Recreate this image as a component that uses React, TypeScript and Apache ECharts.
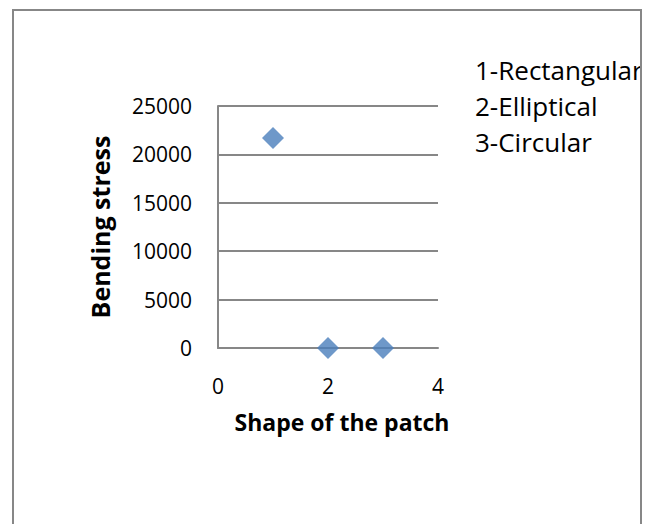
import React, { useEffect, useRef } from "react";
import * as echarts from "echarts";

const shapeIndex = [1, 2, 3];
const bendingStress = [21700, 0, 0];
const legendLines = ["1-Rectangular", "2-Elliptical", "3-Circular"];
const xTitle = "Shape of the patch";
const yTitle = "Bending stress";

const FONT = "'Open Sans', 'Noto Sans', sans-serif";
const GRAY = "#878787";

export default function App() {
  const ref = useRef<HTMLDivElement>(null);
  useEffect(() => {
    if (!ref.current) return;
    const chart = echarts.init(ref.current, undefined, { renderer: "svg" });
    chart.setOption({
      animation: false,
      backgroundColor: "#ffffff",
      grid: { left: 218, top: 106, right: 212, bottom: 176 },
      xAxis: {
        type: "value",
        min: 0,
        max: 4,
        interval: 2,
        name: xTitle,
        nameLocation: "middle",
        nameGap: 62,
        nameTextStyle: {
          fontFamily: FONT,
          fontWeight: "bold",
          fontSize: 23,
          color: "#000",
          padding: [0, 0, 0, 28],
        },
        axisLine: { show: true, onZero: false, lineStyle: { color: GRAY, width: 2 } },
        axisTick: { show: false },
        splitLine: { show: false },
        axisLabel: { fontFamily: FONT, fontSize: 21, color: "#000", margin: 27 },
      },
      yAxis: {
        type: "value",
        min: 0,
        max: 25000,
        interval: 5000,
        name: yTitle,
        nameLocation: "middle",
        nameGap: 106,
        nameRotate: 90,
        nameTextStyle: { fontFamily: FONT, fontWeight: "bold", fontSize: 25, color: "#000" },
        axisLine: { show: true, lineStyle: { color: GRAY, width: 2 } },
        axisTick: { show: false },
        splitLine: { show: true, lineStyle: { color: GRAY, width: 2 } },
        axisLabel: {
          fontFamily: FONT,
          fontSize: 21,
          color: "#000",
          margin: 26,
          formatter: (v: number) => String(v),
        },
      },
      series: [
        {
          type: "scatter",
          data: shapeIndex.map((x, i) => [x, bendingStress[i]]),
          symbol: "diamond",
          symbolSize: [22, 22],
          itemStyle: { color: "#4a7ebb" },
        },
      ],
      graphic: [
        ...legendLines.map((t, i) => ({
          type: "text",
          x: 475,
          y: 70 + i * 36,
          style: {
            text: t,
            fontFamily: FONT,
            fontSize: 26,
            fill: "#000",
            verticalAlign: "middle",
            align: "left",
          },
          z: 10,
        })),
        {
          type: "rect",
          shape: { x: 642, y: 0, width: 20, height: 524 },
          style: { fill: "#ffffff" },
          silent: true,
          z: 20,
        },
        {
          type: "rect",
          shape: { x: 13, y: 10, width: 628, height: 540 },
          style: { fill: "none", stroke: GRAY, lineWidth: 2 },
          silent: true,
          z: 30,
        },
      ],
    });
    return () => chart.dispose();
  }, []);
  return (
    <div
      ref={ref}
      style={{ position: "fixed", left: 0, top: 0, width: 650, height: 524, overflow: "hidden" }}
    />
  );
}
